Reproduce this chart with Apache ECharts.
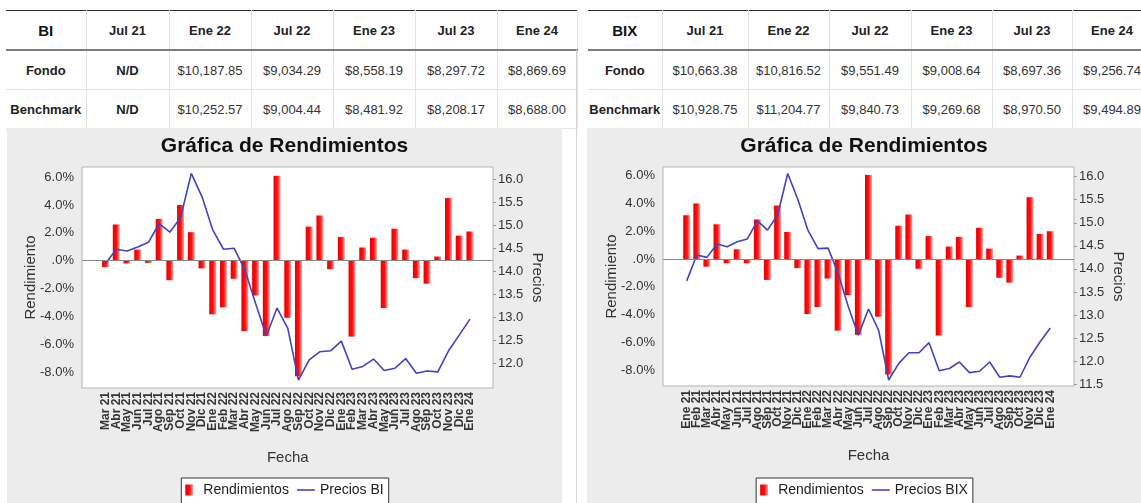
<!DOCTYPE html>
<html>
<head>
<meta charset="utf-8">
<script src="https://cdn.jsdelivr.net/npm/echarts@6/dist/echarts.min.js"></script>
<style>
    body { margin: 0; width: 1141px; height: 503px; overflow: hidden; background: #fff; position: relative;
           font-family: "Liberation Sans", Arial, sans-serif; }
    .tbl { position: absolute; top: 10px; border-collapse: collapse; table-layout: fixed; }
    .tbl td { border-right: 1px solid #e2e2e2; border-bottom: 1px solid #e2e2e2; text-align: center;
              font-size: 13px; color: #333; padding: 0; white-space: nowrap; overflow: hidden; height: 38px; }
    .tbl tr.head td { border-top: 1px solid #333; border-bottom: 2px solid #7d7d7d; font-weight: bold; color: #222; height: 38px; }
    .tbl td.first { font-weight: bold; color: #222; }
    .tbl tr.head td.first { font-size: 15px; color: #111; }
    .tbl td.nd { font-weight: bold; color: #222; }
    .chart { position: absolute; top: 128px; height: 375px; background: #ececec; }
    .sep { position: absolute; left: 576px; top: 50px; width: 1px; height: 453px; background: #d6d6d6; }
</style>
</head>
<body>
<table class="tbl" id="tblBI" style="left:6px;width:571px"></table>
<table class="tbl" id="tblBIX" style="left:588px;width:564px"></table>
<div class="sep"></div>
<div class="chart" id="chartBI" style="left:7px;width:555px"></div>
<div class="chart" id="chartBIX" style="left:587px;width:554px"></div>
<script>
// Tables
const tableDates = ['Jul 21', 'Ene 22', 'Jul 22', 'Ene 23', 'Jul 23', 'Ene 24'];
const fondoBI = ['N/D', '$10,187.85', '$9,034.29', '$8,558.19', '$8,297.72', '$8,869.69'];
const benchBI = ['N/D', '$10,252.57', '$9,004.44', '$8,481.92', '$8,208.17', '$8,688.00'];
const fondoBIX = ['$10,663.38', '$10,816.52', '$9,551.49', '$9,008.64', '$8,697.36', '$9,256.74'];
const benchBIX = ['$10,928.75', '$11,204.77', '$9,840.73', '$9,269.68', '$8,970.50', '$9,494.89'];

// Chart BI (Mar 21 - Ene 24)
const monthsBI = ['Mar 21', 'Abr 21', 'May 21', 'Jun 21', 'Jul 21', 'Ago 21', 'Sep 21', 'Oct 21', 'Nov 21', 'Dic 21',
    'Ene 22', 'Feb 22', 'Mar 22', 'Abr 22', 'May 22', 'Jun 22', 'Jul 22', 'Ago 22', 'Sep 22', 'Oct 22', 'Nov 22', 'Dic 22',
    'Ene 23', 'Feb 23', 'Mar 23', 'Abr 23', 'May 23', 'Jun 23', 'Jul 23', 'Ago 23', 'Sep 23', 'Oct 23', 'Nov 23', 'Dic 23',
    'Ene 24'];
const rendBI = [-0.45, 2.6, -0.2, 0.8, -0.15, 3.0, -1.4, 4.0, 2.05, -0.55,
    -3.85, -3.35, -1.3, -5.05, -2.5, -5.4, 6.1, -4.1, -8.3, 2.45, 3.25, -0.6,
    1.7, -5.45, 0.95, 1.65, -3.4, 2.3, 0.8, -1.25, -1.65, 0.3, 4.5, 1.8,
    2.1];
const preciosBI = [14.17, 14.48, 14.44, 14.53, 14.63, 15.04, 14.85, 15.17, 16.13, 15.62,
    14.90, 14.48, 14.50, 14.03, 13.30, 12.59, 13.20, 12.76, 11.63, 12.07, 12.25, 12.27,
    12.48, 11.87, 11.93, 12.09, 11.84, 11.89, 12.10, 11.78, 11.83, 11.81, 12.27, 12.61,
    12.96];

// Chart BIX (Ene 21 - Ene 24)
const monthsBIX = ['Ene 21', 'Feb 21', 'Mar 21', 'Abr 21', 'May 21', 'Jun 21', 'Jul 21', 'Ago 21', 'Sep 21', 'Oct 21', 'Nov 21', 'Dic 21',
    'Ene 22', 'Feb 22', 'Mar 22', 'Abr 22', 'May 22', 'Jun 22', 'Jul 22', 'Ago 22', 'Sep 22', 'Oct 22', 'Nov 22', 'Dic 22',
    'Ene 23', 'Feb 23', 'Mar 23', 'Abr 23', 'May 23', 'Jun 23', 'Jul 23', 'Ago 23', 'Sep 23', 'Oct 23', 'Nov 23', 'Dic 23',
    'Ene 24'];
const rendBIX = [3.15, 4.0, -0.55, 2.5, -0.3, 0.7, -0.3, 2.85, -1.5, 3.85, 1.95, -0.65,
    -3.95, -3.45, -1.4, -5.15, -2.6, -5.45, 6.05, -4.15, -8.3, 2.4, 3.2, -0.7,
    1.65, -5.5, 0.9, 1.6, -3.45, 2.25, 0.75, -1.35, -1.7, 0.25, 4.45, 1.8,
    2.0];
const preciosBIX = [13.74, 14.30, 14.25, 14.54, 14.48, 14.59, 14.65, 15.04, 14.84, 15.17, 16.07, 15.51,
    14.84, 14.44, 14.45, 13.90, 13.18, 12.56, 13.13, 12.67, 11.59, 11.95, 12.18, 12.18,
    12.40, 11.79, 11.84, 11.98, 11.75, 11.78, 11.98, 11.65, 11.68, 11.65, 12.09, 12.42,
    12.72];

// Tick labels
const pctTicks = [-8, -6, -4, -2, 0, 2, 4, 6];
const priceTicksBI = [12, 12.5, 13, 13.5, 14, 14.5, 15, 15.5, 16];
const priceTicksBIX = [11.5, 12, 12.5, 13, 13.5, 14, 14.5, 15, 15.5, 16];

function renderTable(el, label, fondo, bench, widths) {
    let html = '<colgroup>' + widths.map(w => `<col style="width:${w}px">`).join('') + '</colgroup>';
    html += '<tr class="head"><td class="first">' + label + '</td>' + tableDates.map(d => `<td>${d}</td>`).join('') + '</tr>';
    const row = (name, vals) => '<tr><td class="first">' + name + '</td>' +
        vals.map(v => `<td class="${v === 'N/D' ? 'nd' : ''}">${v}</td>`).join('') + '</tr>';
    html += row('Fondo', fondo) + row('Benchmark', bench);
    document.getElementById(el).innerHTML = html;
}

renderTable('tblBI', 'BI', fondoBI, benchBI, [80, 83, 82, 82, 82, 82, 80]);
renderTable('tblBIX', 'BIX', fondoBIX, benchBIX, [74, 86, 81, 82, 81, 80, 80]);

const barColor = new echarts.graphic.LinearGradient(0, 0, 1, 0, [
    { offset: 0, color: '#e80000' },
    { offset: 0.55, color: '#ff1010' },
    { offset: 1, color: '#dcb0b0' }
]);
const lineColor = '#4343c2';
const PLOT_W = 411;

function pctLabel(v) {
    if (v === 0) return '.0%';
    return v.toFixed(1) + '%';
}

function makeChart(el, cats, rend, precios, lineName, cfg) {
    const chart = echarts.init(document.getElementById(el));
    const n = cats.length;
    // the plot keeps some room on both sides of the first/last bar;
    // the label axis is a category band lined up with the bar positions
    const unit = PLOT_W / (n - 1 + cfg.padL + cfg.padR);
    const catLeft = cfg.gridLeft + (cfg.padL - 0.5) * unit;
    const catWidth = n * unit;

    chart.setOption({
        animation: false,
        textStyle: { fontFamily: 'Liberation Sans' },
        title: {
            text: 'Gráfica de Rendimientos',
            left: 'center',
            top: 8,
            padding: 0,
            textStyle: { fontSize: 21, fontWeight: 'bold', color: '#111' }
        },
        legend: {
            left: 'center',
            top: 350,
            data: [
                { name: 'Rendimientos', icon: 'path://M0,0h8v11h-8z' },
                { name: lineName, icon: 'path://M0,0h18v1.6h-18z' }
            ],
            itemWidth: 18,
            itemHeight: 11,
            itemGap: 8,
            padding: [5, 5, 8, 4],
            backgroundColor: '#fff',
            borderColor: '#333',
            borderWidth: 1,
            borderRadius: 0,
            textStyle: { fontSize: 14, color: '#222' }
        },
        grid: [
            {
                left: cfg.gridLeft, top: 39, width: PLOT_W, height: cfg.gridHeight,
                show: true, backgroundColor: '#fff', borderColor: '#b5b5b5', borderWidth: 1
            },
            { left: catLeft, top: 39, width: catWidth, height: cfg.gridHeight, show: false }
        ],
        xAxis: [
            {
                type: 'value',
                gridIndex: 0,
                min: -cfg.padL,
                max: n - 1 + cfg.padR,
                axisLine: { show: false },
                axisTick: { show: false },
                splitLine: { show: false },
                axisLabel: { show: false }
            },
            {
                type: 'category',
                gridIndex: 1,
                data: cats,
                boundaryGap: true,
                name: 'Fecha',
                nameLocation: 'middle',
                nameGap: 62,
                nameMoveOverlap: false,
                nameTextStyle: { fontSize: 15, color: '#333' },
                axisLine: { show: false },
                axisTick: { show: false },
                axisLabel: {
                    interval: 0,
                    rotate: 90,
                    margin: 4,
                    fontSize: 12,
                    fontWeight: 'bold',
                    color: '#333'
                }
            }
        ],
        yAxis: [
            {
                type: 'value',
                gridIndex: 0,
                min: cfg.pctMin,
                max: cfg.pctMax,
                name: 'Rendimiento',
                nameLocation: 'middle',
                nameGap: 44,
                nameMoveOverlap: false,
                nameTextStyle: { fontSize: 15, color: '#333' },
                axisLine: { show: false },
                axisTick: { show: false },
                splitLine: { show: false },
                axisLabel: { customValues: pctTicks, formatter: pctLabel, margin: 8, fontSize: 13, color: '#333' }
            },
            {
                type: 'value',
                gridIndex: 0,
                position: 'right',
                min: cfg.priceMin,
                max: cfg.priceMax,
                name: 'Precios',
                nameLocation: 'middle',
                nameRotate: -90,
                nameGap: 37,
                nameMoveOverlap: false,
                nameTextStyle: { fontSize: 15, color: '#333' },
                axisLine: { show: false },
                axisTick: { show: true, customValues: cfg.priceTicks, length: 3, lineStyle: { color: '#999' } },
                splitLine: { show: false },
                axisLabel: { customValues: cfg.priceTicks, formatter: v => v.toFixed(1), margin: 5, fontSize: 13, color: '#333' }
            },
            { type: 'value', gridIndex: 1, show: false, min: 0, max: 1 }
        ],
        series: [
            {
                name: 'Rendimientos',
                type: 'bar',
                xAxisIndex: 0,
                yAxisIndex: 0,
                barWidth: 7,
                data: rend.map((v, i) => [i, v]),
                itemStyle: { color: barColor },
                markLine: {
                    silent: true,
                    symbol: 'none',
                    label: { show: false },
                    lineStyle: { color: '#888', type: 'solid', width: 1 },
                    data: [{ yAxis: 0 }]
                }
            },
            {
                name: lineName,
                type: 'line',
                xAxisIndex: 0,
                yAxisIndex: 1,
                symbol: 'none',
                data: precios.map((v, i) => [i, v]),
                lineStyle: { color: lineColor, width: 1.6 },
                itemStyle: { color: lineColor },
                z: 3
            },
            { name: 'labels', type: 'line', xAxisIndex: 1, yAxisIndex: 2, data: [], silent: true }
        ]
    });
    return chart;
}

makeChart('chartBI', monthsBI, rendBI, preciosBI, 'Precios BI', {
    gridLeft: 75, gridHeight: 221, padL: 2.2, padR: 2.15,
    pctMin: -9.14, pctMax: 6.73, priceMin: 11.46, priceMax: 16.27, priceTicks: priceTicksBI
});

makeChart('chartBIX', monthsBIX, rendBIX, preciosBIX, 'Precios BIX', {
    gridLeft: 76, gridHeight: 219, padL: 2.35, padR: 2.35,
    pctMin: -9.13, pctMax: 6.62, priceMin: 11.46, priceMax: 16.21, priceTicks: priceTicksBIX
});
</script>
</body>
</html>
